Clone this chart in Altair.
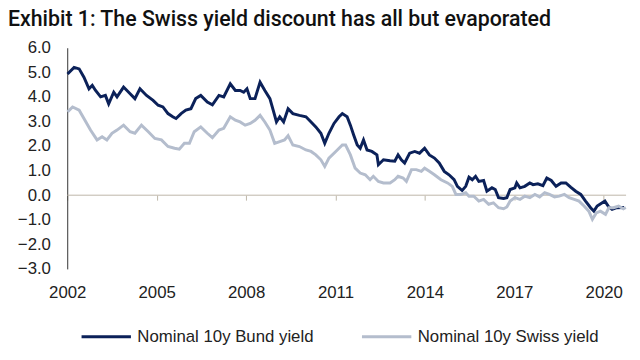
import altair as alt
import pandas as pd

# Decimal-year positions and values
bund_t = [2002.01, 2002.23, 2002.40, 2002.56, 2002.73, 2002.84, 2002.95, 2003.12, 2003.28, 2003.39,
          2003.56, 2003.67, 2003.89, 2004.11, 2004.27, 2004.44, 2004.66, 2004.88, 2005.05, 2005.21,
          2005.38, 2005.54, 2005.65, 2005.82, 2005.98, 2006.15, 2006.31, 2006.48, 2006.70, 2006.87,
          2007.09, 2007.25, 2007.47, 2007.64, 2007.80, 2007.92, 2008.03, 2008.14, 2008.30, 2008.47,
          2008.63, 2008.80, 2008.91, 2009.02, 2009.13, 2009.26, 2009.41, 2009.57, 2009.79, 2010.01,
          2010.18, 2010.34, 2010.51, 2010.64, 2010.78, 2010.95, 2011.12, 2011.23, 2011.39, 2011.50,
          2011.61, 2011.73, 2011.83, 2011.94, 2012.06, 2012.22, 2012.39, 2012.44, 2012.61, 2012.83,
          2012.99, 2013.10, 2013.21, 2013.32, 2013.49, 2013.66, 2013.82, 2013.99, 2014.15, 2014.32,
          2014.48, 2014.65, 2014.81, 2014.98, 2015.09, 2015.25, 2015.37, 2015.48, 2015.59, 2015.70,
          2015.81, 2015.97, 2016.08, 2016.25, 2016.36, 2016.47, 2016.64, 2016.75, 2016.86, 2017.02,
          2017.08, 2017.19, 2017.35, 2017.52, 2017.63, 2017.79, 2017.96, 2018.09, 2018.24, 2018.40,
          2018.57, 2018.73, 2018.90, 2019.06, 2019.23, 2019.39, 2019.56, 2019.67, 2019.78, 2019.95,
          2020.04, 2020.17, 2020.28, 2020.44, 2020.68]
bund_v = [4.93, 5.20, 5.14, 4.80, 4.33, 4.47, 4.26, 4.00, 4.06, 3.72,
          4.19, 4.00, 4.40, 4.13, 3.93, 4.33, 4.06, 3.86, 3.66, 3.59,
          3.32, 3.19, 3.12, 3.32, 3.46, 3.52, 3.93, 4.06, 3.79, 3.68,
          4.06, 4.00, 4.53, 4.26, 4.26, 4.19, 4.33, 3.93, 3.93, 4.60,
          4.26, 3.93, 3.46, 2.98, 3.19, 2.98, 3.52, 3.32, 3.25, 3.19,
          2.98, 2.78, 2.52, 2.11, 2.52, 2.92, 3.19, 3.32, 3.19, 2.85,
          2.45, 2.04, 1.91, 2.25, 1.84, 1.78, 1.64, 1.24, 1.44, 1.40,
          1.38, 1.64, 1.44, 1.31, 1.71, 1.78, 1.71, 1.91, 1.64, 1.51,
          1.31, 0.97, 0.83, 0.63, 0.36, 0.19, 0.36, 0.73, 0.63, 0.77,
          0.56, 0.60, 0.16, 0.30, 0.23, -0.10, -0.13, -0.10, 0.23, 0.30,
          0.50, 0.30, 0.36, 0.50, 0.43, 0.46, 0.39, 0.70, 0.60, 0.36,
          0.50, 0.50, 0.32, 0.16, 0.03, -0.24, -0.51, -0.65, -0.44, -0.31,
          -0.24, -0.48, -0.58, -0.51, -0.50]

swiss_t = [2002.01, 2002.18, 2002.40, 2002.56, 2002.78, 2003.00, 2003.17, 2003.33, 2003.50, 2003.67,
           2003.89, 2004.11, 2004.27, 2004.49, 2004.72, 2004.94, 2005.16, 2005.38, 2005.60, 2005.76,
           2005.93, 2006.10, 2006.26, 2006.48, 2006.70, 2006.87, 2007.09, 2007.25, 2007.47, 2007.64,
           2007.80, 2007.97, 2008.14, 2008.30, 2008.47, 2008.63, 2008.80, 2008.96, 2009.13, 2009.29,
           2009.41, 2009.57, 2009.79, 2010.01, 2010.18, 2010.34, 2010.51, 2010.64, 2010.78, 2011.01,
           2011.23, 2011.34, 2011.50, 2011.66, 2011.83, 2012.00, 2012.16, 2012.27, 2012.44, 2012.61,
           2012.83, 2012.99, 2013.10, 2013.27, 2013.38, 2013.55, 2013.71, 2013.88, 2013.99, 2014.15,
           2014.32, 2014.54, 2014.76, 2014.92, 2015.04, 2015.20, 2015.37, 2015.48, 2015.64, 2015.81,
           2015.97, 2016.14, 2016.30, 2016.47, 2016.64, 2016.75, 2016.86, 2017.02, 2017.19, 2017.35,
           2017.52, 2017.69, 2017.85, 2018.02, 2018.18, 2018.35, 2018.51, 2018.68, 2018.84, 2019.01,
           2019.17, 2019.34, 2019.50, 2019.62, 2019.75, 2019.89, 2020.06, 2020.17, 2020.33, 2020.50,
           2020.66, 2020.74]
swiss_v = [3.39, 3.59, 3.46, 3.12, 2.65, 2.25, 2.38, 2.25, 2.52, 2.65,
           2.85, 2.58, 2.52, 2.85, 2.58, 2.31, 2.25, 1.98, 1.91, 1.87,
           2.11, 2.11, 2.58, 2.78, 2.52, 2.34, 2.65, 2.72, 3.19, 3.05,
           2.98, 2.85, 2.92, 3.05, 3.25, 2.98, 2.65, 2.11, 2.18, 2.25,
           2.42, 2.04, 1.98, 1.84, 1.78, 1.64, 1.44, 1.17, 1.51, 1.78,
           2.04, 2.04, 1.64, 1.10, 0.90, 0.83, 0.63, 0.77, 0.56, 0.50,
           0.50, 0.63, 0.77, 0.70, 0.56, 1.04, 1.04, 0.97, 1.10, 0.97,
           0.83, 0.63, 0.50, 0.36, 0.03, 0.03, 0.10, -0.04, -0.04, -0.24,
           -0.17, -0.37, -0.31, -0.51, -0.55, -0.48, -0.24, -0.10, -0.17, -0.04,
           -0.10, 0.03, -0.07, 0.10, 0.03, -0.07, -0.04, 0.03, -0.10, -0.17,
           -0.24, -0.44, -0.65, -0.98, -0.72, -0.65, -0.78, -0.51, -0.51, -0.44,
           -0.55, -0.50]

series_names = ["Nominal 10y Bund yield", "Nominal 10y Swiss yield"]
series_colors = ["#0b2159", "#b4bdcd"]
year_ticks = [2002, 2005, 2008, 2011, 2014, 2017, 2020]
y_ticks = [-3, -2, -1, 0, 1, 2, 3, 4, 5, 6]

df = pd.concat([
    pd.DataFrame({"t": bund_t, "v": bund_v, "s": series_names[0], "o": 0}),
    pd.DataFrame({"t": swiss_t, "v": swiss_v, "s": series_names[1], "o": 1}),
], ignore_index=True)

W, H = 566, 224
FONT = "Liberation Sans"

xscale = alt.Scale(domain=[2002, 2020.75], nice=False, zero=False)
yscale = alt.Scale(domain=[-3, 6], nice=False)
yaxis = alt.Axis(orient="left", values=y_ticks, format=".1f", title=None, grid=False,
                 ticks=False, domainColor="#333333", labelFontSize=17, labelPadding=17,
                 labelColor="#222222", labelFont=FONT, labelOverlap=False)

lines = alt.Chart(df).mark_line(strokeWidth=3).encode(
    x=alt.X("t:Q", scale=xscale,
            axis=alt.Axis(orient="bottom", values=year_ticks, format="d", title=None,
                          domain=False, ticks=False, grid=False, labelFontSize=17,
                          labelPadding=16, labelColor="#222222", labelFont=FONT,
                          labelOverlap=False, labelFlush=False, labelBound=False)),
    y=alt.Y("v:Q", scale=yscale, axis=yaxis),
    color=alt.Color("s:N", scale=alt.Scale(domain=series_names, range=series_colors),
                    legend=alt.Legend(title=None, orient="none", direction="horizontal",
                                      legendX=13, legendY=266, symbolType="stroke",
                                      symbolSize=2500, symbolStrokeWidth=3, labelFontSize=17,
                                      labelFont=FONT, labelColor="#222222", labelLimit=400,
                                      labelOffset=5, columnPadding=42)),
    order=alt.Order("o:Q"),
    detail="s:N",
)

zero = alt.Chart(pd.DataFrame({"t": [2002, 2020.75], "v": [0, 0]})).mark_line(
    strokeWidth=1, color="#bdb6a8").encode(
    x=alt.X("t:Q", scale=xscale,
            axis=alt.Axis(orient="bottom", values=year_ticks, labels=False, title=None,
                          domain=False, ticks=True, tickSize=5, tickColor="#bdb6a8",
                          grid=False, offset=-H / 3)),
    y=alt.Y("v:Q", scale=yscale, axis=yaxis),
)

chart = alt.layer(zero, lines).resolve_axis(x="independent").properties(
    width=W, height=H,
    autosize=alt.AutoSizeParams(type="none"),
    padding={"left": 60, "top": 38, "right": 6, "bottom": 90},
    title=alt.TitleParams("Exhibit 1: The Swiss yield discount has all but evaporated",
                          anchor="start", frame="group", dx=-60, fontSize=21.6, font="Roboto",
                          fontWeight=500, color="#111111", offset=8),
).configure_view(stroke=None)

chart.save("out.html", embed_options={"renderer": "svg", "actions": False})
